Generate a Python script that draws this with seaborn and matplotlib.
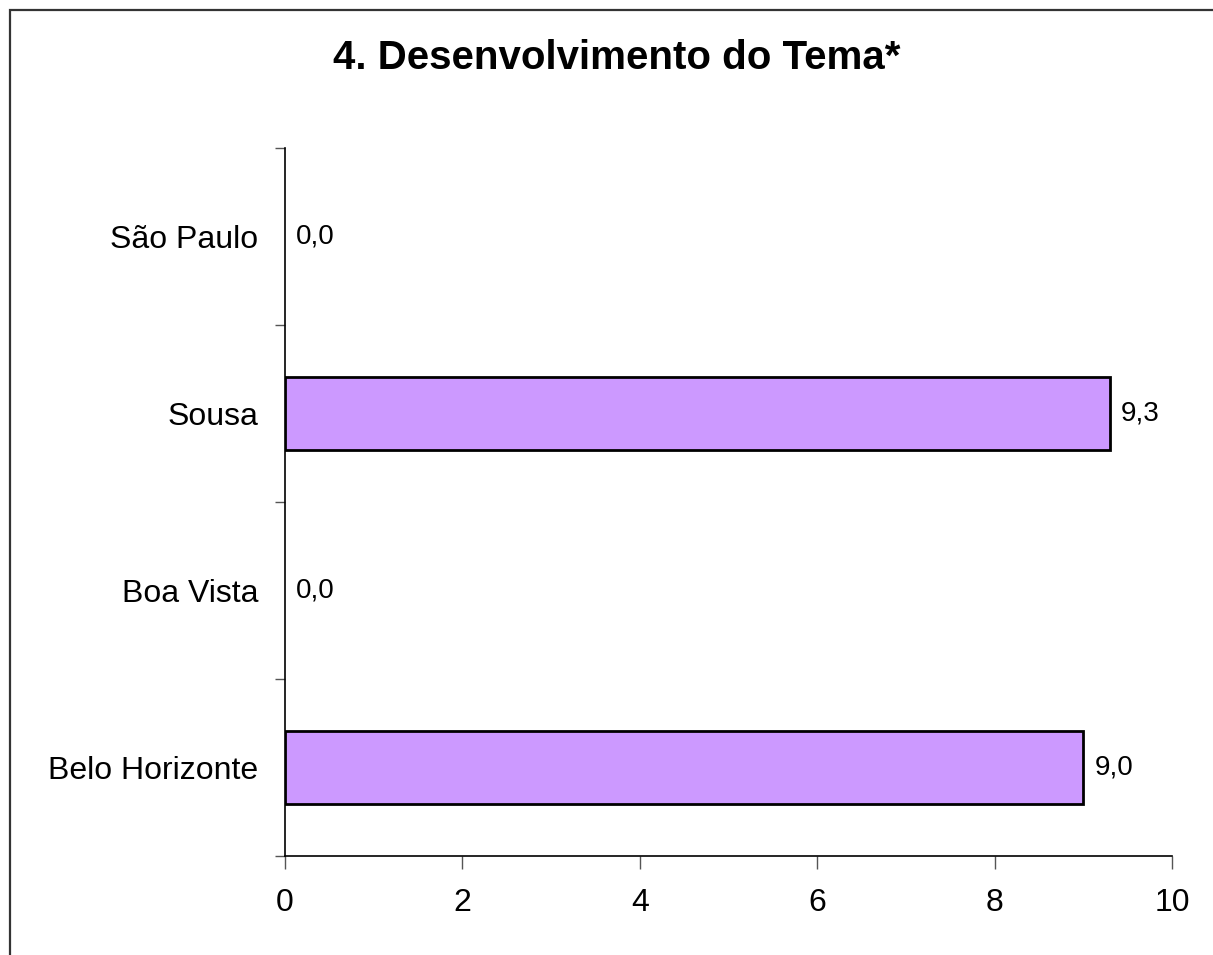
import matplotlib
matplotlib.use("Agg")
import matplotlib.pyplot as plt
import seaborn as sns
import pandas as pd
import numpy as np
from matplotlib.patches import Rectangle

categories = ["São Paulo", "Sousa", "Boa Vista", "Belo Horizonte"]
values = [0.0, 9.3, 0.0, 9.0]
value_labels = ["0,0", "9,3", "0,0", "9,0"]
x_ticks = [0, 2, 4, 6, 8, 10]

sns.set_theme(style="white")
plt.rcParams['font.family'] = ['Liberation Sans', 'DejaVu Sans']
plt.rcParams['text.color'] = 'black'
plt.rcParams['xtick.color'] = 'black'
plt.rcParams['ytick.color'] = 'black'

W, H = 1213, 955
fig = plt.figure(figsize=(W / 100, H / 100), dpi=100)
ax = fig.add_axes([285 / W, 1 - 856 / H, (1172 - 285) / W, (856 - 148) / H])

df = pd.DataFrame({"cat": categories, "val": values})
sns.barplot(data=df, y="cat", x="val", orient="h", color="#CC99FF",
            saturation=1, edgecolor="black", linewidth=2.0, width=0.41, ax=ax)
for p in ax.patches:
    if p.get_width() == 0:
        p.set_linewidth(0)

ax.set_xlim(0, 10)
ax.set_ylim(3.5, -0.5)
ax.set_xticks(x_ticks)
ax.set_xticklabels([str(t) for t in x_ticks], fontsize=23, color="black")
ax.set_yticks(range(len(categories)))
ax.set_yticklabels(categories, fontsize=23, color="black")
ax.set_yticks(np.arange(-0.5, len(categories), 1.0), minor=True)
ax.tick_params(axis="y", which="major", length=0, pad=19)
ax.tick_params(axis="y", which="minor", length=7, width=1, color="#555555", direction="out", left=True)
ax.tick_params(axis="x", which="major", length=9, width=1, color="#555555", direction="out", bottom=True, pad=14)
ax.set_xlabel("")
ax.set_ylabel("")

for s in ["top", "right"]:
    ax.spines[s].set_visible(False)
for s in ["left", "bottom"]:
    ax.spines[s].set_visible(True)
    ax.spines[s].set_color("black")
    ax.spines[s].set_linewidth(1.2)

for i, (v, lab) in enumerate(zip(values, value_labels)):
    ax.annotate(lab, xy=(v, i), xytext=(11, 0), textcoords="offset pixels",
                ha="left", va="center", fontsize=20, color="black")

fig.text(617 / W, 1 - 58 / H, "4. Desenvolvimento do Tema*", ha="center", va="center",
         fontsize=29, fontweight="bold", color="black")

# outer frame (left and top visible)
fig.patches.append(Rectangle((10 / W, -0.05), 1.2, 1 - 10 / H + 0.05,
                             transform=fig.transFigure, fill=False,
                             edgecolor="#333333", linewidth=1.6, zorder=10))

fig.savefig("out.png", dpi=100, facecolor="white")
